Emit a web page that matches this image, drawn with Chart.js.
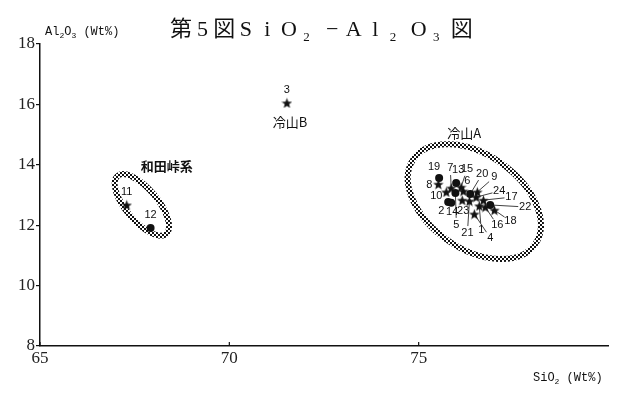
<!DOCTYPE html>
<html>
<head>
<meta charset="utf-8">
<script src="https://cdn.jsdelivr.net/npm/chart.js@4.4.1/dist/chart.umd.min.js"></script>
<style>
  body { margin: 0; background: #fff; }
  #wrap { width: 619px; height: 394px; }
</style>
</head>
<body>
<div id="wrap"><canvas id="myChart" width="619" height="394"></canvas></div>
<script>
// data
const sampleNo = [1, 2, 3, 4, 5, 6, 7, 8, 9, 10, 11, 12, 13, 14, 15, 16, 17, 18, 19, 20, 21, 22, 23, 24];
const sio2 = [76.60, 75.78, 71.52, 76.47, 75.97, 76.18, 75.86, 75.52, 76.55, 75.73, 67.29, 67.92,
              75.99, 75.86, 76.12, 76.76, 76.71, 77.00, 75.54, 76.36, 76.34, 76.89, 76.15, 76.52];
const al2o3 = [12.64, 12.77, 16.05, 12.37, 13.07, 13.13, 13.23, 13.36, 13.10, 13.10, 12.67, 11.91,
               13.40, 12.74, 13.26, 12.60, 12.83, 12.50, 13.56, 13.03, 12.80, 12.67, 12.83, 12.93];
const marker = ['star', 'circle', 'star', 'star', 'circle', 'star', 'star', 'star', 'star', 'star', 'star', 'circle',
                'circle', 'circle', 'star', 'star', 'star', 'star', 'circle', 'circle', 'star', 'circle', 'star', 'star'];
const xTicks = [65, 70, 75];
const yTicks = [8, 10, 12, 14, 16, 18];

// group names and their enclosing ellipses
const groupNames = ['冷山A', '冷山B', '和田峠系'];
const groupX = [76.2, 71.6, 68.35];
const groupY = [15.05, 15.42, 13.96];
const ellipseX = [76.47, 67.69];
const ellipseY = [12.78, 12.67];

// title glyphs, second item marks a subscript
const titleGlyphs = [['第', 0], ['5', 0], ['図', 0], ['S', 0], ['i', 0], ['O', 0], ['2', 1],
                     ['−', 0], ['A', 0], ['l', 0], ['2', 1], ['O', 0], ['3', 1], ['図', 0]];

// label placement (pixels from the point) and leader line flag
const labelOffset = [[2, 24, 1], [-7, 9, 0], [0, -13, 0], [16, 24, 1], [1, 32, 1], [4, -10, 0],
                     [-1, -20, 1], [-9, 1, 0], [17, -15, 1], [-10, 4, 0], [0, -13, 0], [0, -13, 0],
                     [2, -13, 0], [1, 9, 0], [6, -18, 1], [12, 18, 1], [28, -3, 1], [16, 11, 1],
                     [-5, -11, 0], [12, -20, 1], [-2, 32, 1], [35, 2, 1], [1, 11, 0], [23, -6, 1]];
// ellipse shape: semi axes in x units, rotation in degrees
const ellipseShape = [[1.96, 1.24, 35], [1.0, 0.42, 50]];

// filled five point star for the point style
function makeStar(size){
  var c = document.createElement('canvas');
  c.width = size; c.height = size;
  var g = c.getContext('2d');
  var r = size / 2, ri = r * 0.42;
  g.beginPath();
  for (var i = 0; i < 10; i++){
    var rad = (i % 2 == 0) ? r : ri;
    var a = -Math.PI / 2 + i * Math.PI / 5;
    var px = r + rad * Math.cos(a), py = r + 0.6 + rad * Math.sin(a);
    if (i == 0) g.moveTo(px, py); else g.lineTo(px, py);
  }
  g.closePath();
  g.fillStyle = '#111';
  g.fill();
  return c;
}
const starImg = makeStar(11);

// halftone pattern for the ellipse bands
function makeDots(){
  var c = document.createElement('canvas');
  c.width = 4; c.height = 4;
  var g = c.getContext('2d');
  g.fillStyle = '#fff';
  g.fillRect(0, 0, 4, 4);
  g.fillStyle = '#111';
  g.fillRect(0, 0, 2, 2);
  g.fillRect(2, 2, 2, 2);
  return c;
}

// text with subscripts, parts = [[text, isSub], ...]
function drawRich(g, parts, x, y, size, subSize, family){
  for (var i = 0; i < parts.length; i++){
    var sub = parts[i][1];
    g.font = (sub ? subSize : size) + 'px ' + family;
    g.fillText(parts[i][0], x, sub ? y + size * 0.22 : y);
    x += g.measureText(parts[i][0]).width;
  }
}

// the title is set like a typewriter, one glyph per fixed pitch
function drawTitle(g, x0, y, pitch){
  g.textAlign = 'center';
  for (var i = 0; i < titleGlyphs.length; i++){
    var sub = titleGlyphs[i][1];
    g.font = (sub ? 13 : 22) + 'px "Liberation Serif", "Noto Sans CJK JP", serif';
    g.fillText(titleGlyphs[i][0], x0 + i * pitch - (sub ? 4 : 0), sub ? y + 5 : y);
  }
  g.textAlign = 'left';
}

const decorPlugin = {
  id: 'decor',
  beforeDatasetsDraw(chart){
    var g = chart.ctx;
    var xs = chart.scales.x, ys = chart.scales.y;
    var perUnit = xs.getPixelForValue(66) - xs.getPixelForValue(65);
    g.save();
    g.strokeStyle = g.createPattern(makeDots(), 'repeat');
    g.lineWidth = 6;
    for (var i = 0; i < ellipseX.length; i++){
      var s = ellipseShape[i];
      g.beginPath();
      g.ellipse(xs.getPixelForValue(ellipseX[i]), ys.getPixelForValue(ellipseY[i]),
                s[0] * perUnit, s[1] * perUnit, s[2] * Math.PI / 180, 0, Math.PI * 2);
      g.stroke();
    }
    // x ticks point up into the plot
    g.strokeStyle = '#111';
    g.lineWidth = 1.2;
    for (var k = 0; k < xTicks.length; k++){
      var tx = xs.getPixelForValue(xTicks[k]);
      g.beginPath();
      g.moveTo(tx, xs.top);
      g.lineTo(tx, xs.top - 4);
      g.stroke();
    }
    g.restore();
  },
  afterDatasetsDraw(chart){
    var g = chart.ctx;
    var xs = chart.scales.x, ys = chart.scales.y;
    var pts = chart.getDatasetMeta(0).data;
    g.save();
    g.fillStyle = '#111';
    g.strokeStyle = '#111';
    g.lineWidth = 0.8;
    g.textAlign = 'center';
    g.textBaseline = 'middle';
    g.font = '11px "Liberation Sans", Arial, sans-serif';
    for (var i = 0; i < pts.length; i++){
      var o = labelOffset[i];
      var lx = pts[i].x + o[0], ly = pts[i].y + o[1];
      if (o[2]){
        var d = Math.sqrt(o[0] * o[0] + o[1] * o[1]);
        g.beginPath();
        g.moveTo(pts[i].x, pts[i].y);
        g.lineTo(lx - o[0] / d * 7, ly - o[1] / d * 7);
        g.stroke();
      }
      g.fillText(String(sampleNo[i]), lx, ly);
    }
    // group names
    for (var j = 0; j < groupNames.length; j++){
      g.font = (j == 2 ? 'bold ' : '') + '13px "Noto Sans CJK JP", sans-serif';
      g.fillText(groupNames[j], xs.getPixelForValue(groupX[j]), ys.getPixelForValue(groupY[j]));
    }
    // title and axis names
    g.textBaseline = 'alphabetic';
    drawTitle(g, 181, 36, 21.6);
    g.textAlign = 'left';
    drawRich(g, [['Al', 0], ['2', 1], ['O', 0], ['3', 1], [' (Wt%)', 0]],
             45, 35, 12, 8, '"Liberation Mono", monospace');
    drawRich(g, [['SiO', 0], ['2', 1], [' (Wt%)', 0]],
             533, 381, 12, 8, '"Liberation Mono", monospace');
    g.restore();
  }
};

const ctx = document.getElementById('myChart');
new Chart(ctx, {
  type: 'scatter',
  data: {
    datasets: [{
      data: sio2.map(function(v, i){ return {x: v, y: al2o3[i]}; }),
      pointStyle: function(c){ return marker[c.dataIndex] == 'star' ? starImg : 'circle'; },
      radius: 4,
      backgroundColor: '#111',
      borderColor: '#111',
      borderWidth: 0
    }]
  },
  options: {
    responsive: false,
    devicePixelRatio: 1,
    animation: false,
    layout: { padding: { top: 44, right: 11, left: 0, bottom: 0 } },
    plugins: { legend: { display: false }, tooltip: { enabled: false } },
    scales: {
      x: {
        type: 'linear',
        min: 65,
        max: 80,
        afterBuildTicks: function(s){ s.ticks = xTicks.map(function(v){ return {value: v}; }); },
        afterFit: function(s){ s.height = 48; },
        grid: { drawOnChartArea: false, drawTicks: false },
        border: { display: true, color: '#111', width: 1.5 },
        ticks: { color: '#222', padding: 2, font: { family: '"Liberation Serif", serif', size: 17 } }
      },
      y: {
        min: 8,
        max: 18,
        afterBuildTicks: function(s){ s.ticks = yTicks.map(function(v){ return {value: v}; }); },
        afterFit: function(s){ s.width = 40; },
        grid: { drawOnChartArea: false, tickLength: 4, color: '#111', lineWidth: 1.2 },
        border: { display: true, color: '#111', width: 1.5 },
        ticks: { color: '#222', padding: 1, font: { family: '"Liberation Serif", serif', size: 17 } }
      }
    }
  },
  plugins: [decorPlugin]
});
</script>
</body>
</html>
